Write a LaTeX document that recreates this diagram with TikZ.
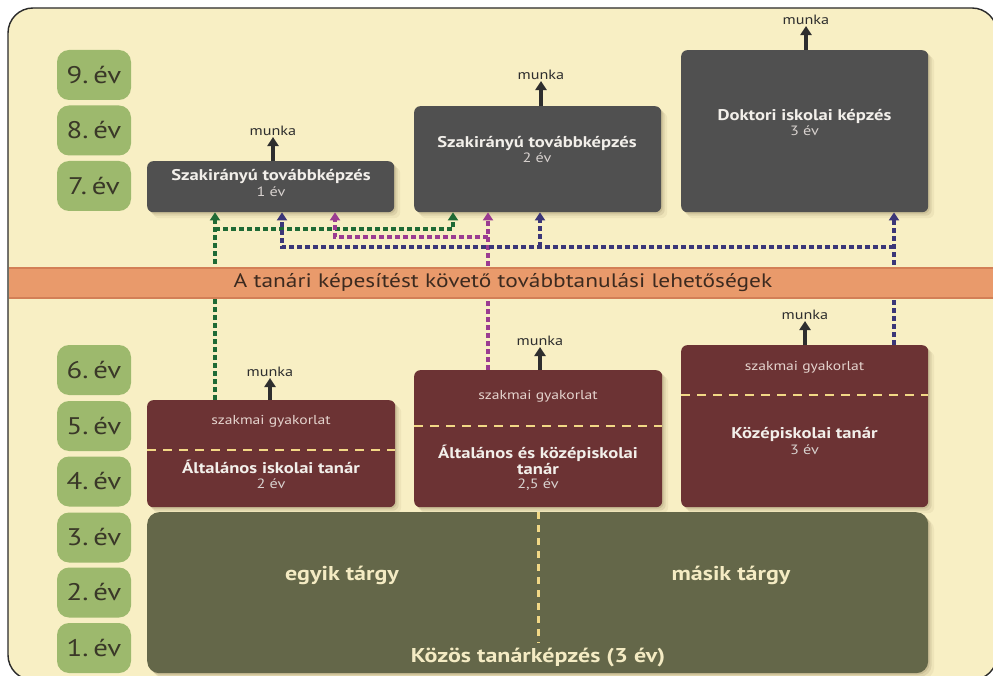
\documentclass[tikz,border=0pt]{standalone}
\usepackage{fontspec}
\setmainfont[FakeStretch=1.2]{PT Sans}
\usetikzlibrary{arrows.meta,shadows,calc}
\definecolor{cream}{HTML}{F8EFC4}
\definecolor{framec}{HTML}{2A2A2A}
\definecolor{yeargreen}{HTML}{9DB96D}
\definecolor{yeartext}{HTML}{3A3828}
\definecolor{darkbox}{HTML}{505050}
\definecolor{maroon}{HTML}{6C3334}
\definecolor{olive}{HTML}{646749}
\definecolor{bandc}{HTML}{E99A6B}
\definecolor{bandedge}{HTML}{D37F56}
\definecolor{bandtext}{HTML}{3C2A1F}
\definecolor{ydashc}{HTML}{F2D886}
\definecolor{gconnc}{HTML}{1F6A35}
\definecolor{mconnc}{HTML}{9B3C91}
\definecolor{bconnc}{HTML}{3B3678}
\definecolor{arrowdark}{HTML}{2E2E2E}
\definecolor{boxtext}{HTML}{F2EFEA}
\definecolor{subtext}{HTML}{D8D2CF}
\definecolor{practext}{HTML}{E5D4CE}
\definecolor{olivetext}{HTML}{F4EBC3}
\definecolor{shadowc}{HTML}{6B5A35}
\begin{document}
\begin{tikzpicture}[x=1pt,y=-1pt,
  softshadow/.style={general shadow={shadow xshift=1.5pt,shadow yshift=-1.5pt,fill=shadowc,opacity=.16},
                     general shadow={shadow xshift=3.5pt,shadow yshift=-3.5pt,fill=shadowc,opacity=.12},
                     general shadow={shadow xshift=6pt,shadow yshift=-6pt,fill=shadowc,opacity=.07}},
  year/.style={fill=yeargreen, rounded corners=12pt, minimum width=74pt, minimum height=50pt, inner sep=0pt, text=yeartext, font=\fontsize{24}{26}\selectfont},
  boxbase/.style={rounded corners=6pt, anchor=north west, inner sep=0pt, softshadow},
  graybox/.style={boxbase, fill=darkbox},
  redbox/.style={boxbase, fill=maroon},
  olivebox/.style={boxbase, rounded corners=12pt, fill=olive},
  title/.style={text=boxtext, font=\bfseries\fontsize{15.5}{16}\selectfont, align=center, inner sep=0pt},
  sub/.style={text=subtext, font=\fontsize{13.5}{14}\selectfont, inner sep=0pt},
  prac/.style={text=practext, font=\fontsize{13}{14}\selectfont, inner sep=0pt},
  munka/.style={text=arrowdark, font=\fontsize{13.5}{14}\selectfont, inner sep=1pt},
  olivelabel/.style={text=olivetext, font=\bfseries\fontsize{20}{22}\selectfont, inner sep=0pt},
  work/.style={draw=arrowdark, line width=3.4pt, -{Triangle[width=11pt,length=9pt]}},
  conn/.style={line width=3.2pt, dash pattern=on 5pt off 3pt},
  connarrow/.style={conn, -{Triangle[width=10pt,length=8pt]}},
  ydash/.style={draw=ydashc, line width=2.8pt, dash pattern=on 9pt off 7pt},
  bandbox/.style={fill=bandc, minimum width=988pt, minimum height=30pt, inner sep=0pt, text=bandtext, font=\fontsize{19.5}{21}\selectfont},
  bandline/.style={draw=bandedge, line width=2pt}
]
\useasboundingbox (0,0) rectangle (993,676);
\fill[white] (0,0) rectangle (993,676);
\clip (0,0) rectangle (993,676);
% frame
\draw[fill=cream, draw=framec, line width=1.4pt, rounded corners=25pt] (8,8) rectangle (997,680);

% year boxes
\node[year] (y9) at (94,75) {9.\hspace{5pt}év};
\node[year] (y8) at (94,130.5) {8.\hspace{5pt}év};
\node[year] (y7) at (94,186) {7.\hspace{5pt}év};
\node[year] (y6) at (94,370) {6.\hspace{5pt}év};
\node[year] (y5) at (94,426) {5.\hspace{5pt}év};
\node[year] (y4) at (94,481.5) {4.\hspace{5pt}év};
\node[year] (y3) at (94,537.5) {3.\hspace{5pt}év};
\node[year] (y2) at (94,592.5) {2.\hspace{5pt}év};
\node[year] (y1) at (94,648) {1.\hspace{5pt}év};

% upper boxes
\node[graybox, minimum width=247pt, minimum height=51pt] (sz1) at (147,161) {};
\node[graybox, minimum width=247pt, minimum height=106pt] (sz2) at (414,106) {};
\node[graybox, minimum width=247pt, minimum height=162pt] (dok) at (681,50) {};

% lower boxes
\node[redbox, minimum width=248pt, minimum height=107pt] (ai) at (147,400) {};
\node[redbox, minimum width=248pt, minimum height=137pt] (ak) at (414,370) {};
\node[redbox, minimum width=247pt, minimum height=162pt] (ko) at (681,345) {};
\node[olivebox, minimum width=781pt, minimum height=161pt] (kz) at (147,512) {};

% connector coordinates
\coordinate (gx) at (215,0);
\coordinate (gx2) at (453,0);
\coordinate (gy) at (0,229);
\coordinate (mx1) at (335,0);
\coordinate (mx2) at (488,0);
\coordinate (my) at (0,237);
\coordinate (bx1) at (282,0);
\coordinate (bx2) at (540,0);
\coordinate (bx3) at (894,0);
\coordinate (by) at (0,247);

% green connectors
\draw[connarrow, draw=gconnc] (ai.north -| gx) -- (sz1.south -| gx);
\draw[connarrow, draw=gconnc] (gx |- gy) -- (gx2 |- gy) -- (sz2.south -| gx2);
% magenta connectors
\draw[connarrow, draw=mconnc] (ak.north -| mx2) -- (sz2.south -| mx2);
\draw[connarrow, draw=mconnc] (mx2 |- my) -- (mx1 |- my) -- (sz1.south -| mx1);
% blue connectors
\draw[connarrow, draw=bconnc] (ko.north -| bx3) -- (dok.south -| bx3);
\draw[connarrow, draw=bconnc] (bx3 |- by) -- (bx1 |- by) -- (sz1.south -| bx1);
\draw[connarrow, draw=bconnc] (bx2 |- by) -- (sz2.south -| bx2);

% band
\node[bandbox] (band) at (503,283) {A tanári képesítést követő továbbtanulási lehetőségek};
\draw[bandline] (band.north west) -- (band.north east);
\draw[bandline] (band.south west) -- (band.south east);

% texts in upper boxes
\node[title] (t1) at (271,177) {Szakirányú továbbképzés};
\node[sub] (s1) at (271,192) {1 év};
\node[title] (t2) at (537,144) {Szakirányú továbbképzés};
\node[sub] (s2) at (537,158) {2 év};
\node[title] (t3) at (804.5,116) {Doktori iskolai képzés};
\node[sub] (s3) at (804.5,131) {3 év};

% texts in lower boxes
\coordinate (aiy) at (0,450);
\coordinate (aky) at (0,426);
\coordinate (koy) at (0,395);
\draw[ydash] (ai.west |- aiy) -- (ai.east |- aiy);
\draw[ydash] (ak.west |- aky) -- (ak.east |- aky);
\draw[ydash] (ko.west |- koy) -- (ko.east |- koy);
\node[prac] (p1) at (271,421) {szakmai gyakorlat};
\node[prac] (p2) at (538,396) {szakmai gyakorlat};
\node[prac] (p3) at (804.5,367) {szakmai gyakorlat};
\node[title] (t4) at (271,467) {Általános iskolai tanár};
\node[sub] (s4) at (271,484) {2 év};
\node[title] (t5) at (538,459.5) {Általános és középiskolai\\tanár};
\node[sub] (s5) at (538,485) {2,5 év};
\node[title] (t6) at (804.5,434) {Középiskolai tanár};
\node[sub] (s6) at (804.5,450) {3 év};

% olive box content
\coordinate (kzx) at (538,0);
\coordinate (kzb) at (0,643);
\draw[ydash, line width=3pt, dash pattern=on 7pt off 6pt] (kz.north -| kzx) -- (kzx |- kzb);
\node[olivelabel] (l1) at (342,575) {egyik tárgy};
\node[olivelabel] (l2) at (731,575) {másik tárgy};
\node[olivelabel] (l3) at (538,657) {Közös tanárképzés (3 év)};

% munka arrows
\node[munka] (m1) at (273,131) {munka};
\node[munka] (m2) at (541,75) {munka};
\node[munka] (m3) at (806,20) {munka};
\node[munka] (m4) at (270,372) {munka};
\node[munka] (m5) at (540,341) {munka};
\node[munka] (m6) at (805,315) {munka};
\draw[work] (sz1.north -| m1) -- (m1.south);
\draw[work] (sz2.north -| m2) -- (m2.south);
\draw[work] (dok.north -| m3) -- (m3.south);
\draw[work] (ai.north -| m4) -- (m4.south);
\draw[work] (ak.north -| m5) -- (m5.south);
\draw[work] (ko.north -| m6) -- (m6.south);
\end{tikzpicture}
\end{document}
